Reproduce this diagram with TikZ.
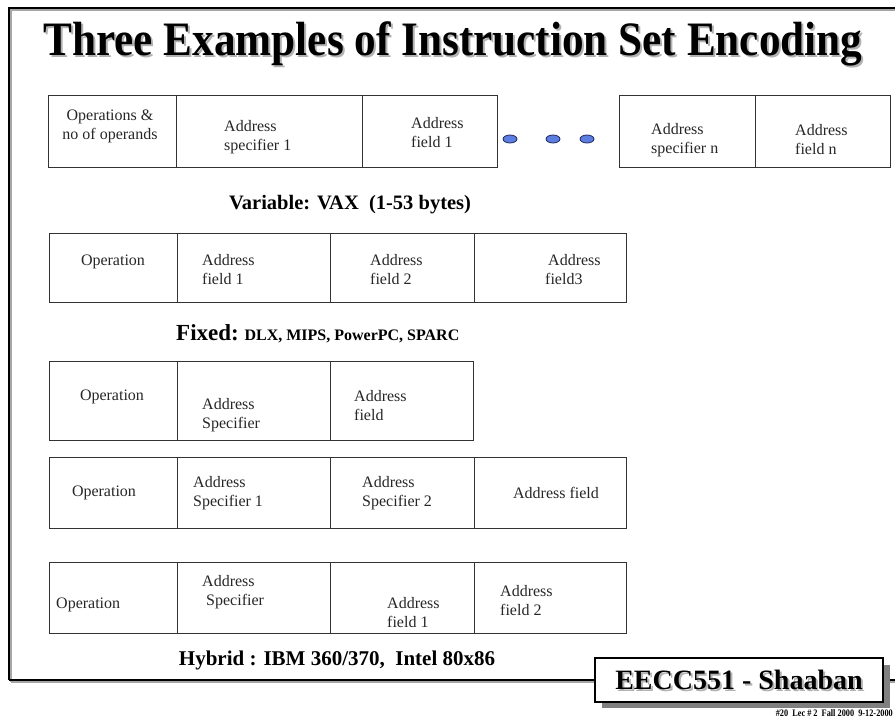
\documentclass[tikz,border=0pt]{standalone}
\usepackage{fontspec}
\setmainfont{Liberation Serif}
\usetikzlibrary{positioning}
\definecolor{dotblue}{RGB}{92,126,226}
\definecolor{dotrim}{RGB}{30,40,90}

\begin{document}
\begin{tikzpicture}[x=1pt,y=-1pt,
	cell/.style={draw=black!80, line width=1pt},
	lbl/.style={font=\fontsize{16}{19}\selectfont, align=left, inner sep=0pt, text=black!85},
	caption/.style={font=\bfseries\fontsize{20.5}{24}\selectfont, inner sep=0pt},
	ovaldot/.style={draw=dotrim, fill=dotblue, line width=0.8pt}]
			%%%%% START %%%%%
			\useasboundingbox (0,0) rectangle (895,717);
			
			% slide frame
			\draw[line width=1.5pt, color=black!35] (11,682) -- (11,10) -- (895,10);
			\draw[line width=2.5pt] (9,680) -- (9,8) -- (895,8);
			\draw[line width=1.5pt, color=black!35] (11,682) -- (895,682);
			\draw[line width=2.5pt] (9,680) -- (895,680);
			
			% title
			\node[font=\bfseries\fontsize{48}{54}\selectfont, text=black!30] (titleshadow) at (455,46) {\scalebox{0.9}[1]{Three Examples of Instruction Set Encoding}};
			\node[font=\bfseries\fontsize{48}{54}\selectfont] (title) at (453,44) {\scalebox{0.9}[1]{Three Examples of Instruction Set Encoding}};
			
			% variable
			\draw[cell] (48,96) rectangle (497,167);
			\draw[cell] (176,96) -- (176,167);
			\draw[cell] (362,96) -- (362,167);
			\node[lbl, align=center] (ops) at (110,126) {Operations \&\\no of operands};
			\node[lbl, anchor=west] (spec1) at (224,137) {Address\\specifier 1};
			\node[lbl, anchor=west] (fld1) at (411,133) {Address\\field 1};
			
			\draw[ovaldot] (510,139) ellipse (7 and 4);
			\draw[ovaldot] (553,139) ellipse (7 and 4);
			\draw[ovaldot] (587,139) ellipse (7 and 4);
			
			\draw[cell] (619,96) rectangle (890,167);
			\draw[cell] (755,96) -- (755,167);
			\node[lbl, anchor=west] (specn) at (651,140) {Address\\specifier n};
			\node[lbl, anchor=west] (fldn) at (795,140) {Address\\field n};
			
			\node[caption] (vax) at (350,205) {Variable: VAX\ \ (1-53 bytes)};
			
			% fixed
			\draw[cell] (49,233) rectangle (626,302);
			\draw[cell] (177,233) -- (177,302);
			\draw[cell] (330,233) -- (330,302);
			\draw[cell] (474,233) -- (474,302);
			\node[lbl] (fxop) at (113,262) {Operation};
			\node[lbl, anchor=west] (fxa) at (202,270) {Address\\field 1};
			\node[lbl, anchor=west] (fxb) at (370,270) {Address\\field 2};
			\node[lbl, anchor=west] (fxc) at (545,270) {\hspace{3pt}Address\\field3};
			
			\node[inner sep=0pt, anchor=base west, font=\bfseries] (fixed) at (176,340) {\fontsize{23}{26}\selectfont Fixed:\ \fontsize{16}{19}\selectfont DLX, MIPS, PowerPC, SPARC};
			
			% hybrid
			\draw[cell] (49,361) rectangle (473,440);
			\draw[cell] (177,361) -- (177,440);
			\draw[cell] (330,361) -- (330,440);
			\node[lbl] (hyop) at (112,397) {Operation};
			\node[lbl, anchor=west] (hyspec) at (202,415) {Address\\Specifier};
			\node[lbl, anchor=west] (hyfld) at (354,406) {Address\\field};
			
			\draw[cell] (49,457) rectangle (626,528);
			\draw[cell] (177,457) -- (177,528);
			\draw[cell] (330,457) -- (330,528);
			\draw[cell] (474,457) -- (474,528);
			\node[lbl] (hyopb) at (104,493) {Operation};
			\node[lbl, anchor=west] (hyspeca) at (193,493) {Address\\Specifier 1};
			\node[lbl, anchor=west] (hyspecb) at (362,493) {Address\\Specifier 2};
			\node[lbl] (hyfldb) at (556,493) {Address field};
			
			\draw[cell] (49,562) rectangle (626,633);
			\draw[cell] (177,562) -- (177,633);
			\draw[cell] (330,562) -- (330,633);
			\draw[cell] (474,562) -- (474,633);
			\node[lbl, anchor=west] (hyopc) at (56,605) {Operation};
			\node[lbl, anchor=west] (hyspecc) at (202,592) {Address\\\hspace{4pt}Specifier};
			\node[lbl, anchor=west] (hyfa) at (387,613) {Address\\field 1};
			\node[lbl, anchor=west] (hyfb) at (500,601) {Address\\field 2};
			
			\node[caption, font=\bfseries\fontsize{21}{24}\selectfont] (ibm) at (337,660) {Hybrid : IBM 360/370,\ \ Intel 80x86};
			
			% name plate
			\fill[black!50] (602,665) rectangle (890,708);
			\draw[fill=white, line width=1.2pt] (595,658) rectangle (883,702);
			\node[font=\bfseries\fontsize{28}{32}\selectfont, text=black!30] (plateshadow) at (741,682) {EECC551 - Shaaban};
			\node[font=\bfseries\fontsize{28}{32}\selectfont] (plate) at (739,680) {EECC551 - Shaaban};
			\node[font=\bfseries\fontsize{9}{11}\selectfont, anchor=base east, inner sep=0pt] (lec) at (893,716) {\scalebox{0.92}[1.1]{\#20\ \ Lec \# 2\ \ Fall 2000\ \ 9-12-2000}};
			
			%%%%% END %%%%%
		\end{tikzpicture}
\end{document}
